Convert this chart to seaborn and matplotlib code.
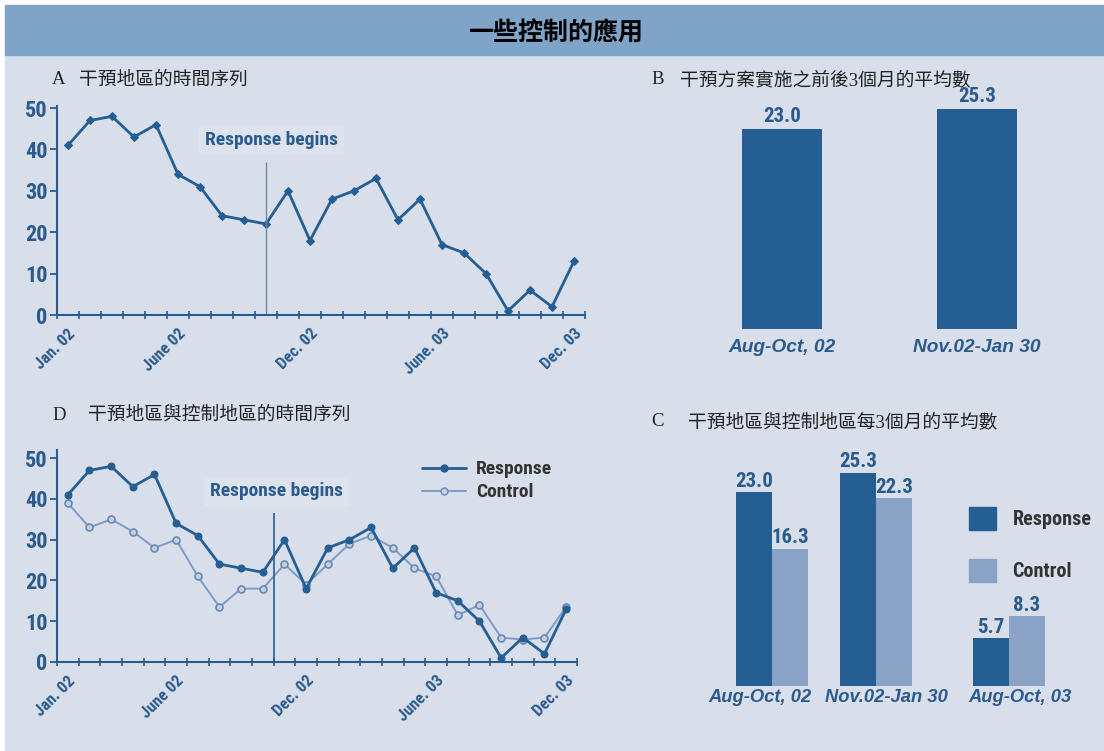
import matplotlib
matplotlib.use("Agg")
import matplotlib.pyplot as plt
import matplotlib.transforms as mtransforms
from matplotlib.patches import Rectangle, Patch
from matplotlib.lines import Line2D
import pandas as pd
import seaborn as sns

# ---- data ----
months = list(range(24))  # Jan 02 .. Dec 03
response = [41, 47, 48, 43, 46, 34, 31, 24, 23, 22, 30, 18, 28, 30, 33, 23, 28, 17, 15, 10, 1, 6, 2, 13]
control = [39, 33, 35, 32, 28, 30, 21, 13.5, 18, 18, 24, 19, 24, 29, 31, 28, 23, 21, 11.5, 14, 6, 5.5, 6, 13.5]
month_tick_pos = [0, 5, 11, 17, 23]
month_tick_labels = ["Jan. 02", "June 02", "Dec. 02", "June. 03", "Dec. 03"]

period_b = ["Aug-Oct, 02", "Nov.02-Jan 30"]
mean_b = [23.0, 25.3]

period_c = ["Aug-Oct, 02", "Nov.02-Jan 30", "Aug-Oct, 03"]
mean_c_response = [23.0, 25.3, 5.7]
mean_c_control = [16.3, 22.3, 8.3]
# the third period sits a bit further right in the original layout
slot_c = [0, 1, 2.28]

# ---- style ----
sns.set_theme(style="ticks")
plt.rcParams["font.family"] = ["DejaVu Sans", "Noto Sans CJK TC"]

DARK = "#255e93"
LIGHT = "#8aa2c5"
TXT = "#2b5b8c"
BG = "#d8dfeb"
BAND = "#80a3c8"
NARROW = ["Roboto Condensed", "Roboto", "DejaVu Sans"]
TITLE_FONT = ["Liberation Serif", "Noto Sans CJK TC"]

W, H = 1104, 751


def box(l, t, r, b):
    return [l / W, 1 - b / H, (r - l) / W, (b - t) / H]


fig = plt.figure(figsize=(W / 100, H / 100), dpi=100, facecolor="white")
fig.patches.append(Rectangle((5 / W, 0), 1, 1 - 55 / H, transform=fig.transFigure, color=BG, zorder=-10))
fig.patches.append(Rectangle((5 / W, 1 - 55 / H), 1, 50 / H, transform=fig.transFigure, color=BAND, zorder=-10))
fig.text(556 / W, 1 - 33 / H, "一些控制的應用", ha="center", va="center", fontsize=18,
         fontweight="heavy", family=["Noto Sans CJK TC"], color="black")

# panel titles
for letter, lx, title, tx, ty in [
    ("A", 52, "干預地區的時間序列", 79, 80),
    ("B", 651, "干預方案實施之前後3個月的平均數", 680, 80),
    ("D", 52, "干預地區與控制地區的時間序列", 88, 415),
    ("C", 651, "干預地區與控制地區每3個月的平均數", 688, 422),
]:
    fig.text(lx / W, 1 - ty / H, letter, va="center", fontsize=13.5, family=TITLE_FONT, color="#222222")
    fig.text(tx / W, 1 - ty / H, title, va="center", fontsize=13.5, family=TITLE_FONT, color="#222222")


def style_series_axis(ax, ymax):
    ax.set_facecolor("none")
    sns.despine(ax=ax)
    for s in ["left", "bottom"]:
        ax.spines[s].set_color(TXT)
        ax.spines[s].set_linewidth(1.5)
    ax.set_xlim(-0.5, 23.5)
    ax.set_ylim(0, ymax)
    ax.set_yticks([0, 10, 20, 30, 40, 50])
    ax.set_xticks(month_tick_pos)
    ax.set_xticklabels(month_tick_labels, rotation=45, ha="right", rotation_mode="anchor")
    ax.set_xticks([m - 0.5 for m in months] + [23.5], minor=True)
    ax.tick_params(axis="x", which="major", length=0, pad=8, labelsize=12, labelcolor=TXT)
    ax.tick_params(axis="x", which="minor", direction="inout", length=6, width=1.2, color=TXT)
    ax.tick_params(axis="y", length=5, width=1.3, color=TXT, labelsize=16, labelcolor=TXT, pad=2)
    for lab in ax.get_xticklabels() + ax.get_yticklabels():
        lab.set_family(NARROW)
        lab.set_fontweight("bold")
    ax.set_xlabel("")
    ax.set_ylabel("")


# ---- A: time series of intervention area ----
axA = fig.add_axes(box(57, 106, 585, 315))
sns.lineplot(x=months, y=response, ax=axA, color=DARK, lw=2, marker="D", markersize=4.5,
             markeredgecolor=DARK)
style_series_axis(axA, 50.5)
axA.vlines(9, 0, 37, color="#6f86a6", lw=1)
axA.text(9.25, 42.3, "Response begins", ha="center", va="center", fontsize=14, color=TXT,
         family=NARROW, fontweight="bold",
         bbox=dict(facecolor="#dde3ed", edgecolor="none", pad=4))

# ---- D: intervention vs control ----
axD = fig.add_axes(box(57, 450, 577, 662))
sns.lineplot(x=months, y=control, ax=axD, color="#7d9bc4", lw=1.4, marker="o", markersize=5,
             markerfacecolor="#c4d0e2", markeredgecolor="#6a89b2", markeredgewidth=1.2)
sns.lineplot(x=months, y=response, ax=axD, color=DARK, lw=2, marker="o", markersize=5,
             markeredgecolor=DARK)
style_series_axis(axD, 52)
axD.vlines(9.5, 0, 36.5, color=DARK, lw=1.2)
axD.text(9.65, 41.9, "Response begins", ha="center", va="center", fontsize=14, color=TXT,
         family=NARROW, fontweight="bold",
         bbox=dict(facecolor="#dde3ed", edgecolor="none", pad=4))
handles = [
    Line2D([], [], color=DARK, lw=2, marker="o", markersize=5),
    Line2D([], [], color="#7d9bc4", lw=1.4, marker="o", markersize=5,
           markerfacecolor="#c4d0e2", markeredgecolor="#6a89b2"),
]
legD = axD.legend(handles, ["Response", "Control"], loc="upper left", frameon=False,
                  bbox_to_anchor=(404 / W, 1 - 443 / H), bbox_transform=fig.transFigure,
                  handlelength=2.3, labelspacing=0.25, handletextpad=0.5,
                  prop={"family": NARROW, "size": 14, "weight": "bold"})
for t in legD.get_texts():
    t.set_color("#333333")

# ---- B: mean of 3 months before/after ----
axB = fig.add_axes(box(650, 95, 1100, 329))
sns.barplot(x=period_b, y=mean_b, ax=axB, color=DARK, width=0.41, saturation=1, linewidth=0)
axB.set_xlim(-0.677, 1.63)
axB.set_ylim(0, 26.9)
axB.bar_label(axB.containers[0], fmt="%.1f", padding=2, fontsize=15, color=TXT,
              family=NARROW, fontweight="bold")

# ---- C: intervention vs control, 3-month means ----
df_c = pd.DataFrame({
    "slot": slot_c * 2,
    "group": ["Response"] * 3 + ["Control"] * 3,
    "mean": mean_c_response + mean_c_control,
})
axC = fig.add_axes(box(650, 440, 1100, 686))
sns.barplot(data=df_c, x="slot", y="mean", hue="group", ax=axC, width=0.69, saturation=1,
            native_scale=True, palette={"Response": DARK, "Control": LIGHT},
            legend=False, linewidth=0)
axC.set_xticks(slot_c)
axC.set_xticklabels(period_c)
axC.set_xlim(-1.173, 3.154)
axC.set_ylim(0, 29.2)
for cont in axC.containers:
    axC.bar_label(cont, fmt="%.1f", padding=1, fontsize=15, color=TXT,
                  family=NARROW, fontweight="bold")
legC = axC.legend([Patch(color=DARK), Patch(color=LIGHT)], ["Response", "Control"],
                  loc="upper left", frameon=False,
                  bbox_to_anchor=(951 / W, 1 - 489 / H), bbox_transform=fig.transFigure,
                  handlelength=1.35, handleheight=1.4, labelspacing=1.4, handletextpad=0.8,
                  prop={"family": NARROW, "size": 14.5, "weight": "bold"})
for t in legC.get_texts():
    t.set_color("#333333")

for ax, pad, size in [(axB, 7, 13.8), (axC, 2, 13.2)]:
    ax.set_facecolor("none")
    sns.despine(ax=ax, left=True, bottom=True)
    ax.set_yticks([])
    ax.set_xlabel("")
    ax.set_ylabel("")
    ax.tick_params(axis="x", length=0, pad=pad, labelsize=size, labelcolor=TXT)
    for lab in ax.get_xticklabels():
        lab.set_family(["Liberation Sans", "DejaVu Sans"])
        lab.set_fontweight("bold")
        lab.set_fontstyle("italic")

# nudge the C period labels sideways the way the original sets them
for lab, dx in zip(axC.get_xticklabels(), [-12, 10, 11]):
    lab.set_transform(lab.get_transform() + mtransforms.ScaledTranslation(dx / 100, 0, fig.dpi_scale_trans))

fig.savefig("out.png", dpi=100, facecolor=fig.get_facecolor())
